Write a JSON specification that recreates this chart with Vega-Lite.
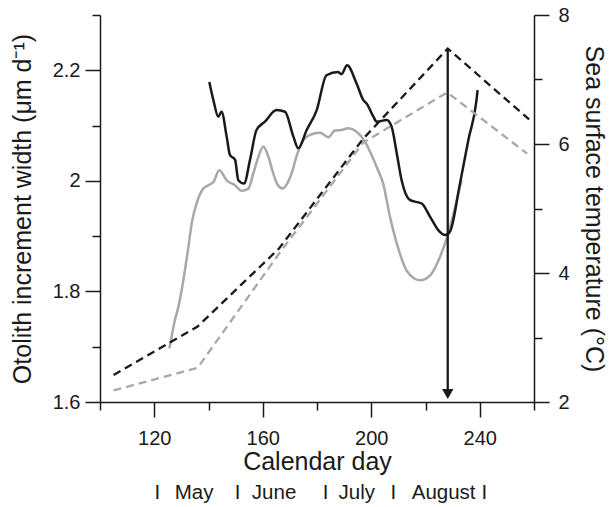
{
  "$schema": "https://vega.github.io/schema/vega-lite/v6.json",
  "width": 434,
  "height": 387,
  "autosize": {"type": "none"},
  "padding": {"left": 100, "top": 15, "right": 75, "bottom": 105},
  "config": {
    "font": "Liberation Sans",
    "view": {"stroke": null},
    "axis": {
      "grid": false,
      "domainColor": "#1a1a1a",
      "tickColor": "#1a1a1a",
      "labelColor": "#1a1a1a",
      "titleColor": "#1a1a1a",
      "domainWidth": 1.5,
      "tickWidth": 1.5,
      "labelFontSize": 20,
      "titleFontSize": 25,
      "titleFontWeight": "normal"
    }
  },
  "datasets": {
    "otolith_gray": [
      {"day": 125.6, "w": 1.697}, {"day": 126.4, "w": 1.718}, {"day": 127.6, "w": 1.748},
      {"day": 128.9, "w": 1.772}, {"day": 130.1, "w": 1.802}, {"day": 131.3, "w": 1.838},
      {"day": 132.6, "w": 1.881}, {"day": 133.8, "w": 1.923}, {"day": 135.6, "w": 1.959},
      {"day": 138.1, "w": 1.986}, {"day": 139.9, "w": 1.992}, {"day": 141.8, "w": 1.998},
      {"day": 144.0, "w": 2.019}, {"day": 146.7, "w": 2.001}, {"day": 149.8, "w": 1.992},
      {"day": 152.2, "w": 1.982}, {"day": 154.7, "w": 1.986}, {"day": 156.5, "w": 2.013},
      {"day": 158.5, "w": 2.045}, {"day": 160.2, "w": 2.062}, {"day": 162.0, "w": 2.045},
      {"day": 163.9, "w": 2.013}, {"day": 165.5, "w": 1.993}, {"day": 167.3, "w": 1.986},
      {"day": 169.0, "w": 1.995}, {"day": 170.6, "w": 2.013}, {"day": 172.5, "w": 2.045},
      {"day": 174.3, "w": 2.068}, {"day": 177.4, "w": 2.083}, {"day": 181.1, "w": 2.087},
      {"day": 184.2, "w": 2.079}, {"day": 186.6, "w": 2.091}, {"day": 189.0, "w": 2.092},
      {"day": 191.5, "w": 2.095}, {"day": 194.6, "w": 2.089}, {"day": 197.7, "w": 2.071},
      {"day": 200.0, "w": 2.048}, {"day": 202.0, "w": 2.025}, {"day": 204.4, "w": 1.995},
      {"day": 206.9, "w": 1.935}, {"day": 209.4, "w": 1.887}, {"day": 213.0, "w": 1.838},
      {"day": 216.0, "w": 1.823}, {"day": 218.0, "w": 1.820}, {"day": 221.7, "w": 1.829},
      {"day": 225.3, "w": 1.862}, {"day": 228.4, "w": 1.905}, {"day": 231.5, "w": 1.965},
      {"day": 233.3, "w": 2.001}
    ],
    "otolith_black": [
      {"day": 140.3, "w": 2.179}, {"day": 141.8, "w": 2.146}, {"day": 143.6, "w": 2.116},
      {"day": 144.8, "w": 2.125}, {"day": 146.7, "w": 2.080}, {"day": 147.9, "w": 2.047},
      {"day": 149.8, "w": 2.038}, {"day": 151.0, "w": 2.001}, {"day": 153.1, "w": 1.995},
      {"day": 155.3, "w": 2.038}, {"day": 157.7, "w": 2.092}, {"day": 160.8, "w": 2.107},
      {"day": 165.1, "w": 2.128}, {"day": 168.2, "w": 2.125}, {"day": 171.3, "w": 2.080},
      {"day": 173.1, "w": 2.059}, {"day": 176.2, "w": 2.092}, {"day": 179.9, "w": 2.128},
      {"day": 183.5, "w": 2.191}, {"day": 187.8, "w": 2.197}, {"day": 189.0, "w": 2.193},
      {"day": 191.1, "w": 2.209}, {"day": 194.6, "w": 2.176}, {"day": 197.1, "w": 2.146},
      {"day": 198.3, "w": 2.140}, {"day": 200.8, "w": 2.116}, {"day": 202.0, "w": 2.107},
      {"day": 205.7, "w": 2.110}, {"day": 207.5, "w": 2.098}, {"day": 209.4, "w": 2.050},
      {"day": 211.2, "w": 2.001}, {"day": 214.3, "w": 1.965}, {"day": 218.6, "w": 1.959},
      {"day": 221.7, "w": 1.935}, {"day": 224.7, "w": 1.911}, {"day": 227.2, "w": 1.902},
      {"day": 229.0, "w": 1.908}, {"day": 232.7, "w": 1.995}, {"day": 235.8, "w": 2.074},
      {"day": 238.8, "w": 2.146}, {"day": 239.2, "w": 2.164}
    ],
    "sst_black": [
      {"day": 105, "t": 2.42}, {"day": 136, "t": 3.17}, {"day": 166, "t": 4.38},
      {"day": 197, "t": 6.08}, {"day": 228.2, "t": 7.48}, {"day": 258.2, "t": 6.38}
    ],
    "sst_gray": [
      {"day": 105, "t": 2.18}, {"day": 136, "t": 2.53}, {"day": 166, "t": 4.3},
      {"day": 197, "t": 6.02}, {"day": 228, "t": 6.8}, {"day": 257.5, "t": 5.85}
    ],
    "arrow_line": [{"day": 228.2, "t": 7.48, "t2": 2.15}],
    "arrow_head": [{"day": 228.2, "t": 2.124}]
  },
  "layer": [
    {
      "encoding": {
        "x": {
          "field": "day", "type": "quantitative",
          "scale": {"domain": [100, 260], "nice": false, "zero": false},
          "axis": {
            "values": [100, 120, 140, 160, 180, 200, 220, 240, 260],
            "labelExpr": "datum.value % 40 == 0 ? datum.label : ''",
            "tickSize": {"condition": {"test": "datum.value % 40 == 0", "value": 15}, "value": 8},
            "labelPadding": 11,
            "labelFlush": false,
            "labelOverlap": false,
            "title": "Calendar day",
            "titlePadding": 1
          }
        },
        "y": {
          "field": "w", "type": "quantitative",
          "scale": {"domain": [1.6, 2.3], "nice": false, "zero": false},
          "axis": {
            "orient": "left",
            "values": [1.6, 1.7, 1.8, 1.9, 2.0, 2.1, 2.2, 2.3],
            "labelExpr": "round(datum.value*10) % 2 == 0 ? format(datum.value, '~g') : ''",
            "tickSize": {"condition": {"test": "round(datum.value*10) % 2 == 0", "value": 15}, "value": 8},
            "labelPadding": 5,
            "labelFlush": false,
            "labelOverlap": false,
            "title": "Otolith increment width (μm d⁻¹)",
            "titlePadding": 17
          }
        }
      },
      "layer": [
        {"data": {"name": "otolith_gray"}, "mark": {"type": "line", "color": "#a8a8a8", "strokeWidth": 2.5, "interpolate": "monotone"}},
        {"data": {"name": "otolith_black"}, "mark": {"type": "line", "color": "#1a1a1a", "strokeWidth": 2.5, "interpolate": "monotone"}}
      ]
    },
    {
      "encoding": {
        "x": {
          "field": "day", "type": "quantitative",
          "scale": {"domain": [100, 260], "nice": false, "zero": false},
          "axis": {
            "orient": "bottom",
            "values": [121, 134.5, 150.5, 164, 183, 194.5, 208, 226.5, 241.5],
            "labelExpr": "datum.value == 134.5 ? 'May' : datum.value == 164 ? 'June' : datum.value == 194.5 ? 'July' : datum.value == 226.5 ? 'August' : 'I'",
            "ticks": false,
            "domain": false,
            "labelPadding": 80,
            "labelFontSize": 20.5,
            "labelFlush": false,
            "labelOverlap": false,
            "labelBound": false,
            "title": null
          }
        },
        "y": {
          "field": "t", "type": "quantitative",
          "scale": {"domain": [2, 8], "nice": false, "zero": false},
          "axis": {
            "orient": "right",
            "values": [2, 3, 4, 5, 6, 7, 8],
            "labelExpr": "datum.value % 2 == 0 ? datum.label : ''",
            "tickSize": {"condition": {"test": "datum.value % 2 == 0", "value": 15}, "value": 8},
            "labelPadding": 9,
            "labelFlush": false,
            "labelOverlap": false,
            "title": "Sea surface temperature (°C)",
            "titlePadding": 11
          }
        }
      },
      "layer": [
        {"data": {"name": "sst_gray"}, "mark": {"type": "line", "color": "#a8a8a8", "strokeWidth": 2.3, "strokeDash": [8, 5]}},
        {"data": {"name": "sst_black"}, "mark": {"type": "line", "color": "#1a1a1a", "strokeWidth": 2.3, "strokeDash": [8, 5]}},
        {"data": {"name": "arrow_line"}, "mark": {"type": "rule", "color": "#1a1a1a", "strokeWidth": 2.3}, "encoding": {"y2": {"field": "t2"}}},
        {"data": {"name": "arrow_head"}, "mark": {"type": "point", "shape": "triangle-down", "filled": true, "color": "#1a1a1a", "opacity": 1, "size": 130}}
      ]
    }
  ],
  "resolve": {"scale": {"y": "independent"}, "axis": {"x": "independent"}}
}
